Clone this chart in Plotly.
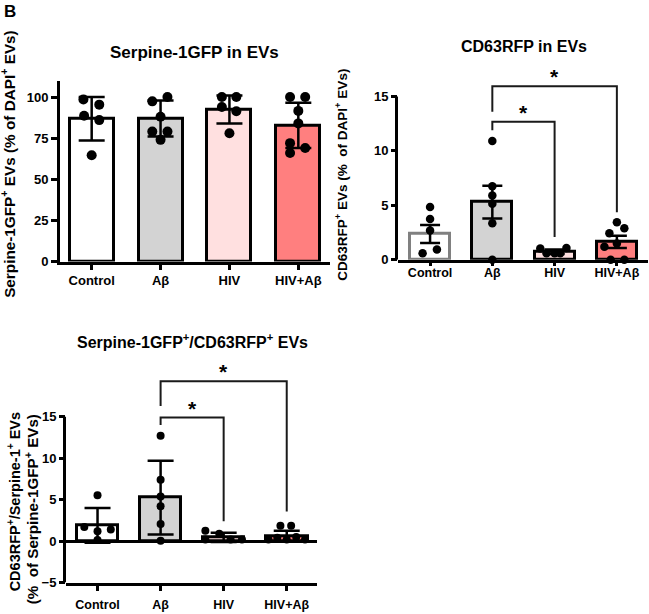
import plotly.graph_objects as go

# ---------------- data ----------------
groups = ["Control", "Aβ", "HIV", "HIV+Aβ"]

# Panel 1: Serpine-1GFP in EVs (mean ± SD)
p1_mean = [86.8, 87.0, 92.5, 82.8]
p1_err = [13.2, 11.0, 8.5, 13.8]
p1_pts = [
    [98.6, 95.4, 88.6, 86.0, 64.6],
    [97.4, 100.0, 88.0, 79.0, 79.0, 74.0],
    [100.0, 100.0, 94.0, 91.4, 78.0],
    [100.0, 100.0, 91.6, 84.0, 72.0, 66.0, 69.0],
]

# Panel 2: CD63RFP in EVs (mean ± SEM)
p2_mean = [2.37, 5.3, 0.75, 1.65]
p2_err = [0.82, 1.5, 0.2, 0.57]
p2_pts = [
    [4.86, 3.75, 2.7, 0.6, 0.95],
    [10.9, 6.75, 5.9, 5.15, 3.35, 0.0],
    [1.05, 0.6, 0.6, 0.6, 1.1],
    [3.45, 2.9, 2.45, 1.5, 1.2, 0.0, 0.0],
]
p2_sig = [  # (group a, group b, left end, top, right end)
    (1, 3, 13.6, 15.94, 4.37),
    (1, 2, 11.9, 12.68, 2.1),
]

# Panel 3: Serpine-1GFP+/CD63RFP+ EVs (mean ± SD)
p3_mean = [1.9, 5.25, 0.45, 0.6]
p3_err = [2.1, 4.45, 0.55, 0.65]
p3_pts = [
    [5.55, 1.7, 1.4, 1.2, 0.15],
    [12.7, 7.4, 5.4, 4.2, 2.06, 0.05],
    [1.26, 0.2, 0.9, 0.2, 0.2],
    [1.86, 1.86, 0.2, 0.4, 0.2, 0.5, 0.2],
]
p3_sig = [
    (1, 3, 16.3, 19.3, 3.57),
    (1, 2, 14.0, 14.9, 2.4),
]

# horizontal scatter of the dots inside each bar (category units)
p1_jit = [[-0.12, 0.11, -0.11, 0.11, 0], [-0.12, 0.1, 0, -0.12, 0.1, 0],
          [-0.11, 0.1, -0.11, 0.1, 0], [-0.12, 0.1, 0, 0, -0.12, -0.12, 0.1]]
p2_jit = [[0, 0, 0, -0.12, 0.11], [0, 0, 0, 0, 0, 0],
          [-0.23, -0.13, 0, 0.09, 0.19], [0, 0.12, -0.12, 0, -0.2, -0.1, 0.12]]
p3_jit = [[0, -0.21, 0.21, 0, 0], [0, 0, 0, 0, 0, 0],
          [-0.29, -0.29, -0.07, 0.11, 0.29], [-0.1, 0.07, -0.29, -0.15, 0, 0.15, 0.29]]

# ---------------- style ----------------
W, H = 649, 614
FONT = "Liberation Sans"
fills = ["#FFFFFF", "#D3D3D3", "#FFE0E0", "#FF7F7F"]
p2_lines = ["#808080", "black", "black", "black"]
xs = [0, 1, 2, 3]


def px_x(p):
    return p / W


def px_y(p):
    return 1 - p / H


fig = go.Figure()


def add_panel(n, mean, err, pts, jit, lines, bw, cap, msize):
    xa, ya = ("x" if n == 1 else f"x{n}"), ("y" if n == 1 else f"y{n}")
    fig.add_trace(go.Bar(x=xs, y=mean, width=bw, xaxis=xa, yaxis=ya,
                         marker=dict(color=fills, line=dict(color=lines, width=3)),
                         showlegend=False, hoverinfo="skip"))
    for i, g in enumerate(pts):
        fig.add_trace(go.Scatter(x=[xs[i] + j for j in jit[i]], y=g, mode="markers",
                                 xaxis=xa, yaxis=ya, showlegend=False, cliponaxis=False,
                                 marker=dict(color="black", size=msize)))
    fig.add_trace(go.Scatter(x=xs, y=mean, mode="markers", xaxis=xa, yaxis=ya,
                             showlegend=False, cliponaxis=False,
                             marker=dict(size=1, color="rgba(0,0,0,0)"),
                             error_y=dict(type="data", array=err, color="black",
                                          thickness=2.5, width=cap)))


add_panel(1, p1_mean, p1_err, p1_pts, p1_jit, ["black"] * 4, 0.64, 13, 10)
add_panel(2, p2_mean, p2_err, p2_pts, p2_jit, p2_lines, 0.645, 10, 8.5)
add_panel(3, p3_mean, p3_err, p3_pts, p3_jit, ["black"] * 4, 0.66, 13, 8)


def add_sig(n, sig):
    xa, ya = f"x{n}", f"y{n}"
    for a, b, le, top, re in sig:
        fig.add_trace(go.Scatter(x=[a, a, b, b], y=[le, top, top, re], mode="lines",
                                 xaxis=xa, yaxis=ya, showlegend=False, hoverinfo="skip",
                                 line=dict(color="#1a1a1a", width=2)))
        fig.add_annotation(x=(a + b) / 2, y=top, xref=xa, yref=ya, text="<b>*</b>",
                           showarrow=False, yanchor="bottom", yshift=-4,
                           font=dict(family=FONT, size=21, color="black"))


add_sig(2, p2_sig)
add_sig(3, p3_sig)

tickf = dict(family=FONT, size=13, color="black", weight="bold")
tickf2 = dict(family=FONT, size=12.5, color="black", weight="bold")
common_x = dict(tickvals=xs, ticktext=groups, showgrid=False, zeroline=False,
                showline=True, linecolor="black", linewidth=3, ticks="outside",
                tickwidth=2.5, tickcolor="black")
common_y = dict(showgrid=False, ticks="outside", ticklen=6, tickwidth=2.5,
                tickcolor="black", tickfont=tickf)

# domains (pixel measurements)
d1x = [px_x(60), px_x(330)]
d1y = [px_y(265), px_y(81.7)]
d2x = [px_x(398), px_x(648)]
d2y = [px_y(263.3), px_y(64.6)]
d3x = [px_x(66), px_x(317)]
d3y = [px_y(590.3), px_y(366)]

fig.update_layout(
    width=W, height=H, margin=dict(l=0, r=0, t=0, b=0),
    paper_bgcolor="white", plot_bgcolor="white", bargap=0,
    font=dict(family=FONT, color="black"),
    xaxis=dict(domain=d1x, range=[-0.46, 3.46], anchor="y", ticklen=5, tickfont=tickf,
               **common_x),
    yaxis=dict(domain=d1y, range=[0, 110], anchor="x", tickvals=[0, 25, 50, 75, 100],
               showline=True, linecolor="black", linewidth=3, zeroline=False, **common_y),
    xaxis2=dict(domain=d2x, range=[-0.515, 3.5], anchor="y2", ticklen=3, tickfont=tickf2,
                ticklabelstandoff=-4, **common_x),
    yaxis2=dict(domain=d2y, range=[0, 18], anchor="x2", tickvals=[0, 5, 10, 15],
                showline=False, zeroline=False, **common_y),
    xaxis3=dict(domain=d3x, range=[-0.5, 3.48], anchor="y3", ticklen=5, tickfont=tickf2,
                ticklabelstandoff=3, **common_x),
    yaxis3=dict(domain=d3y, range=[-5, 21.7], anchor="x3", tickvals=[-5, 0, 5, 10, 15],
                showline=False, zeroline=True, zerolinecolor="black", zerolinewidth=3,
                **common_y),
)

# y-axis lines that stop at the top tick (brackets sit above them)
fig.add_shape(type="line", xref="paper", yref="y2", x0=d2x[0] - 1.5 / W, x1=d2x[0] - 1.5 / W,
              y0=0, y1=15, line=dict(color="black", width=3))
fig.add_shape(type="line", xref="paper", yref="y3", x0=d3x[0] - 1.5 / W, x1=d3x[0] - 1.5 / W,
              y0=-5, y1=15, line=dict(color="black", width=3))

# titles and labels
def ann(text, x, y, size, angle=0):
    fig.add_annotation(text=text, x=px_x(x), y=px_y(y), xref="paper", yref="paper",
                       showarrow=False, textangle=angle, xanchor="center", yanchor="middle",
                       font=dict(family=FONT, size=size, color="black", weight="bold"))


ann("B", 10, 12, 17)
ann("Serpine-1GFP in EVs", 194, 53, 17)
ann("CD63RFP in EVs", 524, 47, 16)
ann("Serpine-1GFP<sup>+</sup>/CD63RFP<sup>+</sup> EVs", 192, 345, 16)
ann("Serpine-1GFP<sup>+</sup> EVs (% of DAPI<sup>+</sup> EVs)", 8, 166, 15.3, -90)
ann("CD63RFP<sup>+</sup> EVs (%\u00a0 of DAPI<sup>+</sup> EVs)", 341, 177, 13.5, -90)
ann("CD63RFP<sup>+</sup>/Serpine-1<sup>+</sup> EVs", 14, 509, 14.5, -90)
ann("(%\u00a0 of Serpine-1GFP<sup>+</sup> EVs)", 31, 516, 15.2, -90)

fig.write_html("out.html", config={"displayModeBar": False},
               post_script="document.body.style.margin='0px';")
